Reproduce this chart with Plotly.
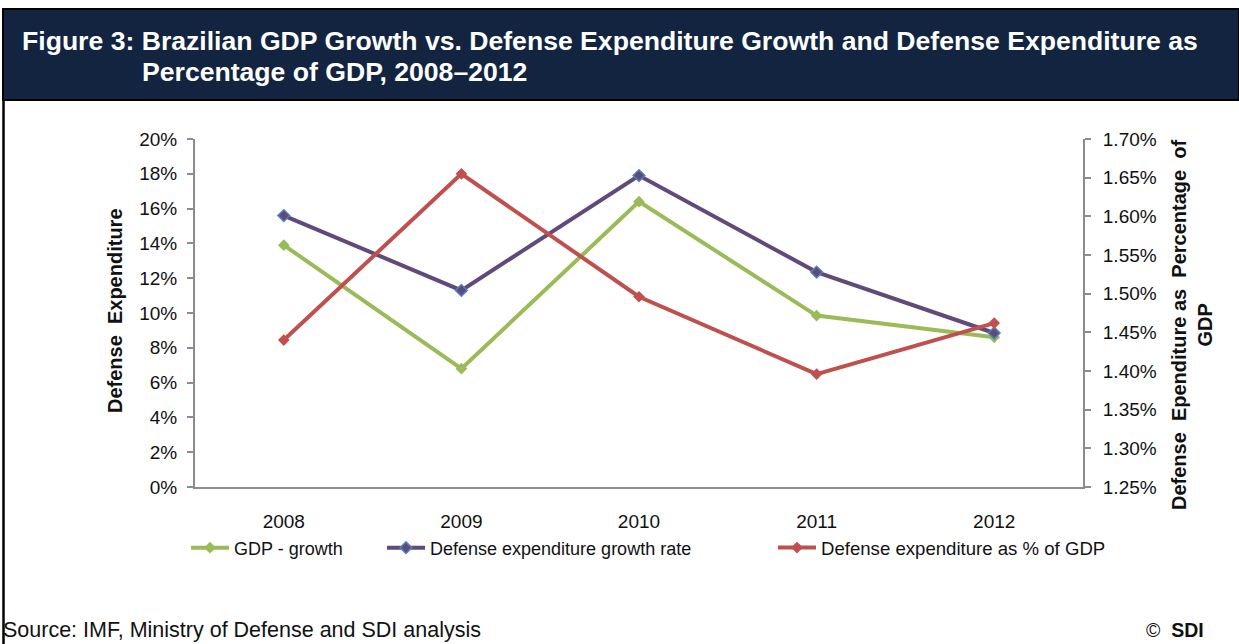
import plotly.graph_objects as go

# Data
years = ["2008", "2009", "2010", "2011", "2012"]
gdp_growth = [13.9, 6.8, 16.4, 9.85, 8.6]             # % (left axis)
defense_growth = [15.6, 11.3, 17.9, 12.35, 8.85]      # % (left axis)
defense_pct_gdp = [1.44, 1.655, 1.496, 1.396, 1.462]  # % (right axis)

left_ticks = list(range(0, 21, 2))
right_ticks = [1.25, 1.30, 1.35, 1.40, 1.45, 1.50, 1.55, 1.60, 1.65, 1.70]

W, H = 1239, 644
GREEN = "#9BBB59"
PURPLE = "#604A7B"
BLUE = "#4F81BD"
RED = "#C0504D"
NAVY = "#12243F"
AXIS = "#8c8c8c"
FONT = "Liberation Sans, Arial, sans-serif"


def px_x(x):
    return x / W


def px_y(y):
    return 1 - y / H


fig = go.Figure()

fig.add_trace(go.Scatter(
    x=years, y=gdp_growth, name="GDP - growth", mode="lines+markers",
    line=dict(color=GREEN, width=4),
    marker=dict(symbol="diamond", size=9, color=GREEN),
    yaxis="y", legend="legend",
))
fig.add_trace(go.Scatter(
    x=years, y=defense_growth, name="Defense expenditure growth rate",
    mode="lines+markers",
    line=dict(color=PURPLE, width=4),
    marker=dict(symbol="diamond", size=9, color=PURPLE,
                line=dict(color=BLUE, width=1.5)),
    yaxis="y", legend="legend2",
))
fig.add_trace(go.Scatter(
    x=years, y=defense_pct_gdp, name="Defense expenditure as % of GDP",
    mode="lines+markers",
    line=dict(color=RED, width=4),
    marker=dict(symbol="diamond", size=9, color=RED),
    yaxis="y2", legend="legend3",
))

x0, x1 = px_x(195), px_x(1083)
y_bot, y_top = px_y(487), px_y(139)


def legend_at(xpx, size=18):
    return dict(
        orientation="h", x=px_x(xpx), y=px_y(548),
        xanchor="left", yanchor="middle",
        font=dict(size=size, color="#111", family=FONT),
        itemwidth=38, bgcolor="rgba(0,0,0,0)",
    )


fig.update_layout(
    template="none",
    width=W, height=H,
    autosize=False,
    margin=dict(l=0, r=0, t=0, b=0, pad=0, autoexpand=False),
    paper_bgcolor="white", plot_bgcolor="white",
    font=dict(family=FONT, size=18, color="#111"),
    showlegend=True,
    legend=legend_at(186),
    legend2=legend_at(382),
    legend3=legend_at(773, 18.6),
    xaxis=dict(
        domain=[x0, x1], type="category", range=[-0.5, 4.5],
        showline=True, linecolor=AXIS, linewidth=2,
        ticks="", showgrid=False, zeroline=False, automargin=False,
        tickfont=dict(size=19, color="#111"), ticklabelstandoff=16,
    ),
    yaxis=dict(
        domain=[y_bot, y_top], range=[0, 20], tickvals=left_ticks,
        ticktext=[f"{v}%" for v in left_ticks],
        showline=True, linecolor=AXIS, linewidth=2,
        ticks="outside", ticklen=6, tickcolor=AXIS, tickwidth=2,
        showgrid=False, zeroline=False, automargin=False,
        tickfont=dict(size=19, color="#111"), ticklabelstandoff=6,
    ),
    yaxis2=dict(
        overlaying="y", side="right", anchor="x",
        range=[1.25, 1.70], tickvals=right_ticks,
        ticktext=[f"{v:.2f}%" for v in right_ticks],
        showline=True, linecolor=AXIS, linewidth=2,
        ticks="outside", ticklen=6, tickcolor=AXIS, tickwidth=2,
        showgrid=False, zeroline=False, automargin=False,
        tickfont=dict(size=19, color="#111"), ticklabelstandoff=8,
    ),
)

shapes = [
    # title banner
    dict(type="rect", xref="paper", yref="paper",
         x0=px_x(3), x1=1.0, y0=px_y(100), y1=px_y(9),
         fillcolor=NAVY, line=dict(color="black", width=2), layer="below"),
    # left frame line of the body
    dict(type="line", xref="paper", yref="paper",
         x0=px_x(3.5), x1=px_x(3.5), y0=0, y1=px_y(100),
         line=dict(color="black", width=2.5)),
]

annotations = [
    dict(text="<b>Figure 3: Brazilian GDP Growth vs. Defense Expenditure Growth and Defense Expenditure as</b>",
         x=px_x(20), y=px_y(41), xref="paper", yref="paper",
         xanchor="left", yanchor="middle", showarrow=False,
         font=dict(size=26.6, color="white", family=FONT)),
    dict(text="<b>Percentage of GDP, 2008–2012</b>",
         x=px_x(140), y=px_y(72), xref="paper", yref="paper",
         xanchor="left", yanchor="middle", showarrow=False,
         font=dict(size=26.6, color="white", family=FONT)),
    dict(text="<b>Defense  Expenditure</b>",
         x=px_x(115), y=px_y(311), xref="paper", yref="paper",
         xanchor="center", yanchor="middle", showarrow=False, textangle=-90,
         font=dict(size=20, color="#111", family=FONT)),
    dict(text="<b>Defense  Ependiture as  Percentage  of<br>GDP</b>",
         x=px_x(1192), y=px_y(325), xref="paper", yref="paper",
         xanchor="center", yanchor="middle", showarrow=False, textangle=-90,
         font=dict(size=20, color="#111", family=FONT)),
    dict(text="Source: IMF, Ministry of Defense and SDI analysis",
         x=px_x(1), y=px_y(630), xref="paper", yref="paper",
         xanchor="left", yanchor="middle", showarrow=False,
         font=dict(size=21.5, color="#111", family=FONT)),
    dict(text="©  <b>SDI</b>",
         x=px_x(1206), y=px_y(630), xref="paper", yref="paper",
         xanchor="right", yanchor="middle", showarrow=False,
         font=dict(size=19.5, color="#111", family=FONT)),
]

fig.update_layout(shapes=shapes, annotations=annotations)

fig.write_html("out.html")
